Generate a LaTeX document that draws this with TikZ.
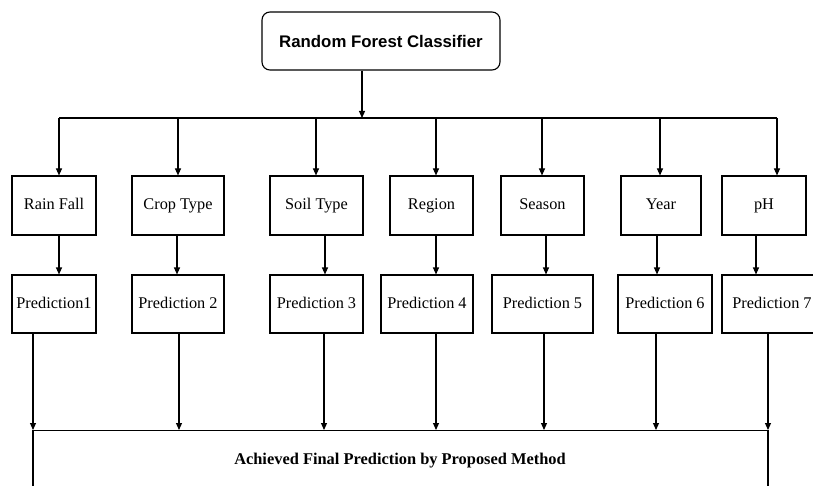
\documentclass[tikz,border=0pt]{standalone}
\usepackage{fontspec}
\setmainfont{Liberation Serif}
\newfontfamily\arialfont{Liberation Sans}
\usetikzlibrary{arrows.meta}
\begin{document}
\begin{tikzpicture}[x=1pt,y=-1pt,
  line width=1.1pt,
  arr/.style={-{Triangle[length=7pt,width=6pt]}},
  featbox/.style={draw, minimum height=59pt, inner sep=0pt, text height=11.5pt, text depth=3.5pt, font=\fontsize{16.3}{18}\selectfont},
  predbox/.style={draw, minimum height=58pt, inner sep=0pt, text height=11.5pt, text depth=3.5pt, font=\fontsize{16.3}{18}\selectfont},
  topbox/.style={draw, rounded corners=8pt, minimum width=238pt, minimum height=58pt, inner sep=0pt, font=\arialfont\bfseries\fontsize{16.8}{19}\selectfont},
  finalbox/.style={draw, anchor=north, minimum width=735pt, minimum height=120pt, inner sep=0pt},
  finaltext/.style={font=\bfseries\fontsize{16.4}{19}\selectfont, inner sep=0pt}
]
\useasboundingbox (0,0) rectangle (813,486);

% top box
\node[topbox] (rfc) at (381,41) {Random Forest Classifier};

% bus
\coordinate (b0) at (362,118);
\coordinate (b1) at (59,118);
\coordinate (b2) at (178,118);
\coordinate (b3) at (316,118);
\coordinate (b4) at (436,118);
\coordinate (b5) at (542,118);
\coordinate (b6) at (660,118);
\coordinate (b7) at (777,118);
\draw (b1) -- (b7);
\draw[arr] (rfc.south -| b0) -- (b0);

% feature boxes
\node[featbox, minimum width=84pt] (f1) at (54,205.5) {Rain Fall};
\node[featbox, minimum width=92pt] (f2) at (178,205.5) {Crop Type};
\node[featbox, minimum width=93pt] (f3) at (316.5,205.5) {Soil Type};
\node[featbox, minimum width=83pt] (f4) at (431.5,205.5) {Region};
\node[featbox, minimum width=83pt] (f5) at (542.5,205.5) {Season};
\node[featbox, minimum width=80pt] (f6) at (661,205.5) {Year};
\node[featbox, minimum width=84pt] (f7) at (764,205.5) {pH};

\foreach \i in {1,...,7} {
  \draw[arr] (b\i) -- (b\i |- f\i.north);
}

% prediction boxes
\node[predbox, minimum width=84pt] (p1) at (54,304) {Prediction1};
\node[predbox, minimum width=92pt] (p2) at (178,304) {Prediction 2};
\node[predbox, minimum width=93pt] (p3) at (316.5,304) {Prediction 3};
\node[predbox, minimum width=92pt] (p4) at (427,304) {Prediction 4};
\node[predbox, minimum width=101pt] (p5) at (542.5,304) {Prediction 5};
\node[predbox, minimum width=94pt] (p6) at (665,304) {Prediction 6};
\node[predbox, minimum width=100pt] (p7) at (772,304) {Prediction 7};

\draw[arr] ([xshift=5pt]f1.south) -- ([xshift=5pt]f1.south |- p1.north);
\draw[arr] ([xshift=-1pt]f2.south) -- ([xshift=-1pt]f2.south |- p2.north);
\draw[arr] ([xshift=8.5pt]f3.south) -- ([xshift=8.5pt]f3.south |- p3.north);
\draw[arr] ([xshift=4.5pt]f4.south) -- ([xshift=4.5pt]f4.south |- p4.north);
\draw[arr] ([xshift=3.5pt]f5.south) -- ([xshift=3.5pt]f5.south |- p5.north);
\draw[arr] ([xshift=-4pt]f6.south) -- ([xshift=-4pt]f6.south |- p6.north);
\draw[arr] ([xshift=-8pt]f7.south) -- ([xshift=-8pt]f7.south |- p7.north);

% final box
\node[finalbox] (final) at (400.5,430) {};
\node[finaltext] (ftxt) at (400,461) {Achieved Final Prediction by Proposed Method};

\draw[arr] ([xshift=-21pt]p1.south) -- ([xshift=-21pt]p1.south |- final.north);
\draw[arr] ([xshift=1pt]p2.south) -- ([xshift=1pt]p2.south |- final.north);
\draw[arr] ([xshift=7.5pt]p3.south) -- ([xshift=7.5pt]p3.south |- final.north);
\draw[arr] ([xshift=9pt]p4.south) -- ([xshift=9pt]p4.south |- final.north);
\draw[arr] ([xshift=1.5pt]p5.south) -- ([xshift=1.5pt]p5.south |- final.north);
\draw[arr] ([xshift=-9pt]p6.south) -- ([xshift=-9pt]p6.south |- final.north);
\draw[arr] ([xshift=-4pt]p7.south) -- ([xshift=-4pt]p7.south |- final.north);
\end{tikzpicture}
\end{document}
